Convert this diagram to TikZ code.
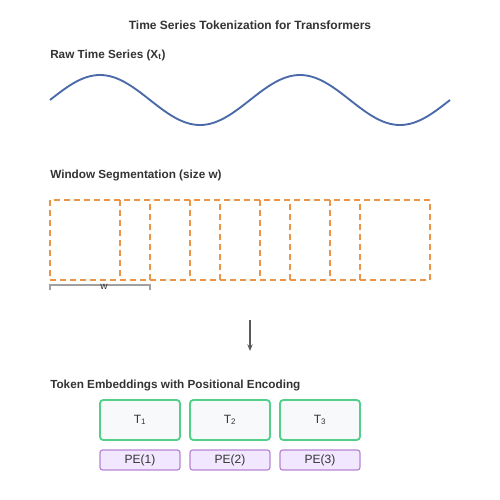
\documentclass[tikz,border=0pt]{standalone}
\usepackage{fontspec}
\setmainfont{Liberation Sans}
\usetikzlibrary{arrows.meta}
\definecolor{inkgray}{RGB}{51,51,51}
\definecolor{wavecol}{RGB}{74,105,168}
\definecolor{wincol}{RGB}{236,148,72}
\definecolor{tokline}{RGB}{82,208,138}
\definecolor{tokfill}{RGB}{248,249,250}
\definecolor{peline}{RGB}{182,132,212}
\definecolor{pefill}{RGB}{241,231,255}
\definecolor{bracecol}{RGB}{160,160,160}
\definecolor{arrcol}{RGB}{90,90,90}
\tikzset{
  heading/.style={font=\bfseries\fontsize{8.8}{11}\selectfont,text=inkgray,anchor=west,inner sep=0},
  window/.style={draw=wincol,line width=1.4pt,dash pattern=on 4.5pt off 3pt},
  token/.style={draw=tokline,fill=tokfill,line width=1.4pt,rounded corners=2.5pt,
    minimum width=60pt,minimum height=30pt,font=\fontsize{9}{11}\selectfont,text=inkgray},
  posenc/.style={draw=peline,fill=pefill,line width=0.9pt,rounded corners=2pt,
    minimum width=60pt,minimum height=15pt,inner sep=0,font=\fontsize{9}{11}\selectfont,text=inkgray},
}
\begin{document}
\begin{tikzpicture}[x=0.75pt,y=-0.75pt]
\useasboundingbox (0,0) rectangle (500,500);
\node[font=\bfseries\fontsize{9}{11}\selectfont,text=inkgray] (title) at (250,25) {Time Series Tokenization for Transformers};
% raw series
\node[heading] (rawlbl) at (50,55.5) {Raw Time Series (X\textsubscript{t})};
\draw[wavecol,line width=1.4pt] plot[domain=50:450,samples=120,smooth] (\x,{100-25*sin(1.8*(\x-50))});
% windows
\node[heading] (winlbl) at (50,175.5) {Window Segmentation (size w)};
\foreach \i in {0,...,4}
  \draw[window] (50+70*\i,200) rectangle +(100,80);
\draw[bracecol,line width=0.9pt] (50,290)--(50,285)--(150,285)--(150,290);
\node[font=\fontsize{7.5}{9}\selectfont,text=inkgray,inner sep=0] (wlbl) at (104,286.5) {w};
% arrow
\coordinate (arrtop) at (250,320);
\coordinate (arrbot) at (250,351);
\draw[arrcol,line width=0.9pt,-{Stealth[length=5pt,width=4pt]}] (arrtop)--(arrbot);
% tokens
\node[heading] (toklbl) at (50,385.5) {Token Embeddings with Positional Encoding};
\node[token] (t1) at (140,420) {T\textsubscript{1}};
\node[token] (t2) at (230,420) {T\textsubscript{2}};
\node[token] (t3) at (320,420) {T\textsubscript{3}};
\node[posenc] (pe1) at (140,460) {PE(1)};
\node[posenc] (pe2) at (230,460) {PE(2)};
\node[posenc] (pe3) at (320,460) {PE(3)};
\end{tikzpicture}
\end{document}
